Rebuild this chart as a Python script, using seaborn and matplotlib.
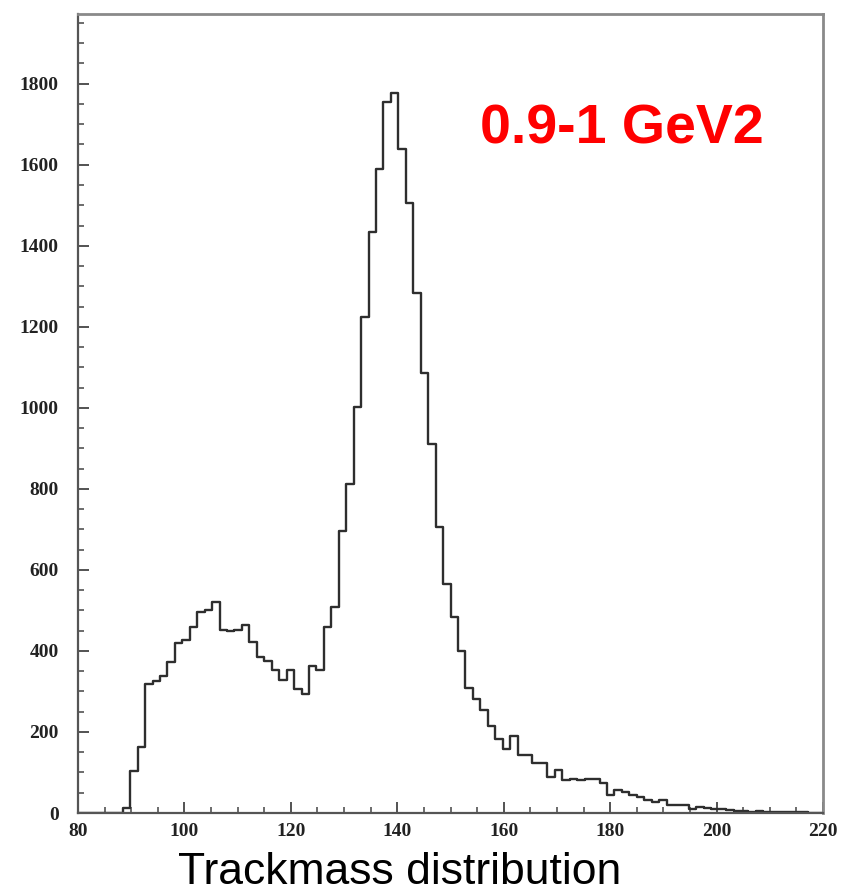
import numpy as np
import pandas as pd
import seaborn as sns
import matplotlib.pyplot as plt
from matplotlib.ticker import MultipleLocator

# ---- data: 100 bins from 80 to 220 (width 1.4) ----
x_min, x_max, n_bins = 80, 220, 100
counts = [
    0, 0, 0, 0, 0, 0, 12, 104, 164, 318,
    326, 337, 372, 420, 426, 458, 495, 501, 521, 452,
    449, 451, 463, 423, 386, 374, 352, 328, 354, 306,
    293, 364, 353, 460, 509, 695, 813, 1003, 1225, 1435,
    1589, 1755, 1778, 1638, 1505, 1283, 1086, 910, 705, 565,
    483, 401, 308, 281, 254, 215, 182, 157, 190, 143,
    143, 123, 123, 90, 106, 81, 84, 81, 84, 84,
    74, 44, 58, 52, 45, 39, 33, 26, 33, 19,
    20, 19, 9, 15, 12, 10, 11, 7, 5, 4,
    3, 4, 2, 3, 2, 2, 2, 3, 1, 1,
]
x_ticks = [80, 100, 120, 140, 160, 180, 200, 220]
y_ticks = [0, 200, 400, 600, 800, 1000, 1200, 1400, 1600, 1800]
title_text = "Trackmass distribution"
label_text = "0.9-1 GeV2"

edges = np.linspace(x_min, x_max, n_bins + 1)
centers = (edges[:-1] + edges[1:]) / 2
df = pd.DataFrame({"mass": centers, "count": counts})

sns.set_theme(style="white")
plt.rcParams["font.family"] = ["Liberation Sans", "DejaVu Sans"]

fig = plt.figure(figsize=(8.41, 8.93), dpi=100)
ax = fig.add_axes([78 / 841, 1 - 813 / 893, (823 - 78) / 841, (813 - 14) / 893])

sns.histplot(data=df, x="mass", weights="count", bins=n_bins,
             binrange=(x_min, x_max), element="step",
             fill=False, color="#2e2e2e", linewidth=1.7, ax=ax)

ax.set_xlim(x_min, x_max)
ax.set_ylim(0, 1972)
ax.set_xticks(x_ticks)
ax.set_yticks(y_ticks)
ax.xaxis.set_minor_locator(MultipleLocator(5))
ax.yaxis.set_minor_locator(MultipleLocator(50))
ax.tick_params(which="both", direction="in", top=False, right=False,
               colors="#444444", bottom=True, left=True)
ax.tick_params(which="major", length=8, width=1.3)
ax.tick_params(which="minor", length=4, width=1.1)
ax.tick_params(axis="y", which="major", pad=14)
ax.tick_params(axis="x", which="major", pad=7)
for lab in ax.get_xticklabels() + ax.get_yticklabels():
    lab.set_fontfamily("Liberation Serif")
    lab.set_fontweight("bold")
    lab.set_fontsize(14)
    lab.set_color("#222222")
ax.set_xlabel("")
ax.set_ylabel("")
for side in ["left", "bottom"]:
    ax.spines[side].set_color("#555555")
    ax.spines[side].set_linewidth(1.6)
for side in ["top", "right"]:
    ax.spines[side].set_color("#8a8a8a")
    ax.spines[side].set_linewidth(2.0)

fig.text(480 / 841, 1 - 129 / 893, label_text, color="#ff0000",
         fontsize=40, fontweight="bold", ha="left", va="center",
         family=["Liberation Sans", "DejaVu Sans"])

fig.text(400 / 841, 1 - 872 / 893, title_text, ha="center", va="center",
         fontsize=32, color="black", family=["Liberation Sans", "DejaVu Sans"])

fig.savefig("out.png", dpi=100, facecolor="white")
